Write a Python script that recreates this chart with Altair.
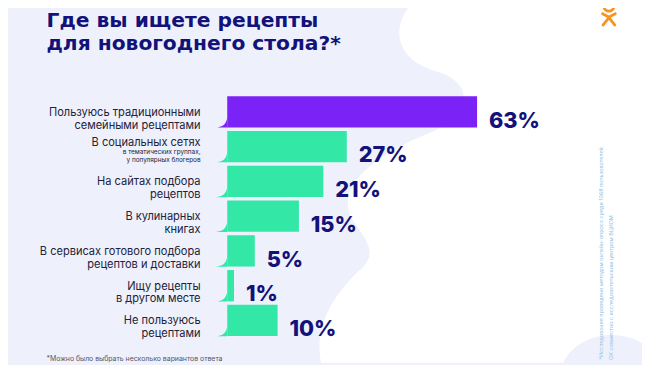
import altair as alt
import pandas as pd

# ---------------- data ----------------
categories = ["trad", "social", "sites", "books", "services", "other", "none"]
label_lines = [
    "Пользуюсь традиционными\nсемейными рецептами",
    "В социальных сетях",
    "На сайтах подбора\nрецептов",
    "В кулинарных\nкнигах",
    "В сервисах готового подбора\nрецептов и доставки",
    "Ищу рецепты\nв другом месте",
    "Не пользуюсь\nрецептами",
]
sub_label = "в тематических группах,\nу популярных блогеров"
values = [63, 27, 21, 15, 5, 1, 10]
groups = ["top", "rest", "rest", "rest", "rest", "rest", "rest"]
title_lines = "Где вы ищете рецепты\nдля новогоднего стола?*"
footnote = "*Можно было выбрать несколько вариантов ответа"
side_note_1 = "*Исследование проведено методом онлайн-опроса среди 1068 пользователей"
side_note_2 = "ОК совместно с исследовательским центром ВЦИОМ"

df = pd.DataFrame({
    "cat": categories,
    "label": label_lines,
    "value": values,
    "group": groups,
})
df["pct"] = df["value"].astype(str) + "%"
df["sub"] = ["", sub_label, "", "", "", "", ""]

one = pd.DataFrame({"k": [0]})

# ---------------- styles ----------------
LAV = "#EEF1FB"
NAVY = "#12127A"
TXT = "#22223A"
FONT = "Inter"

ys = alt.Scale(domain=categories, range=[87, 330], paddingInner=0.1, paddingOuter=0)
xs = alt.Scale(type="pow", exponent=0.87, domain=[0, 63], range=[222, 475])
cs = alt.Scale(domain=["top", "rest"], range=["#7B22F7", "#33E8A6"])

Y = alt.Y("cat:N", scale=ys, axis=None, sort=categories)

# decorative background blob (path in page pixels; symbol anchored at page 0,0)
blob_path = ("M 418 0 C 396 22 398 58 442 70 C 478 80 480 110 440 130 "
             "C 390 150 330 185 360 225 C 378 250 380 258 360 275 "
             "C 335 300 318 330 325 365 L 570 365 C 585 335 625 330 650 345 L 650 0 Z")
blob = alt.Chart(one).mark_point(filled=True, opacity=1, shape=blob_path, size=4,
                                 color="#FFFFFF", strokeWidth=0).encode(
    x=alt.value(-8), y=alt.value(-8))

logo_ring = alt.Chart(one).mark_point(filled=False, shape="M 621.5 4 A 5 5 0 1 1 611.5 4 A 5 5 0 1 1 621.5 4 Z",
                                      size=4, color="#F7931E", strokeWidth=2.8, opacity=1).encode(
    x=alt.value(-8), y=alt.value(-8))
logo_body = alt.Chart(one).mark_point(filled=False, shape="M 610 11.5 L 616.5 15 L 623 11.5 M 610.5 23 L 616.5 15.5 L 622.5 23",
                                      size=4, color="#F7931E", strokeWidth=2.8, opacity=1,
                                      strokeCap="round", strokeJoin="round").encode(
    x=alt.value(-8), y=alt.value(-8))

bars = alt.Chart(df).mark_bar().encode(
    x=alt.X("value:Q", scale=xs, axis=None),
    y=Y,
    color=alt.Color("group:N", scale=cs, legend=None),
)

flare = alt.Chart(df).mark_point(filled=True, opacity=1, size=4, strokeWidth=0,
                                 shape="M 0 4 Q 0 16 -13 16 L 0 16 Z").encode(
    x=alt.X("zero:Q", scale=xs, axis=None),
    y=Y,
    color=alt.Color("group:N", scale=cs, legend=None),
).transform_calculate(zero="0")

labels = alt.Chart(df).mark_text(align="right", baseline="middle", lineBreak="\n",
                                 fontSize=11.2, font=FONT, color=TXT, dy=1, lineHeight=13).encode(
    x=alt.value(195), y=Y, text="label:N"
).transform_filter(alt.datum.sub == "")

label_social = alt.Chart(df).mark_text(align="right", baseline="middle",
                                       fontSize=11.2, font=FONT, color=TXT, dy=-4).encode(
    x=alt.value(195), y=Y, text="label:N"
).transform_filter(alt.datum.sub != "")

label_sub = alt.Chart(df).mark_text(align="right", baseline="middle", lineBreak="\n",
                                    fontSize=6.5, font=FONT, color=TXT, dy=5.5, lineHeight=8).encode(
    x=alt.value(195), y=Y, text="sub:N"
).transform_filter(alt.datum.sub != "")

pct = alt.Chart(df).mark_text(align="left", baseline="middle", fontSize=22, fontWeight=800,
                              font=FONT, color=NAVY, dx=12, dy=9).encode(
    x=alt.X("value:Q", scale=xs, axis=None), y=Y, text="pct:N"
)

title = alt.Chart(one).mark_text(align="left", baseline="alphabetic", lineBreak="\n",
                                 fontSize=20.5, fontWeight="bold", font="DejaVu Sans", color=NAVY,
                                 lineHeight=23).encode(
    x=alt.value(39), y=alt.value(17), text=alt.value(title_lines))

foot = alt.Chart(one).mark_text(align="left", baseline="top", fontSize=7, font=FONT,
                                color="#555566").encode(
    x=alt.value(39), y=alt.value(349), text=alt.value(footnote))

side1 = alt.Chart(one).mark_text(align="left", baseline="middle", angle=270, fontSize=5.5,
                                 font=FONT, color="#8EC3E6").encode(
    x=alt.value(601), y=alt.value(354), text=alt.value(side_note_1))
side2 = alt.Chart(one).mark_text(align="left", baseline="middle", angle=270, fontSize=5.5,
                                 font=FONT, color="#8EC3E6").encode(
    x=alt.value(611), y=alt.value(354), text=alt.value(side_note_2))

chart = alt.layer(
    blob, logo_ring, logo_body, bars, flare, labels, label_social, label_sub, pct,
    title, foot, side1, side2
).properties(
    width=642, height=357,
    autosize=alt.AutoSizeParams(type="none"),
    padding=0,
    background=LAV,
).configure_view(stroke=None)

chart.save("out.html", embed_options={"renderer": "svg", "actions": False})
